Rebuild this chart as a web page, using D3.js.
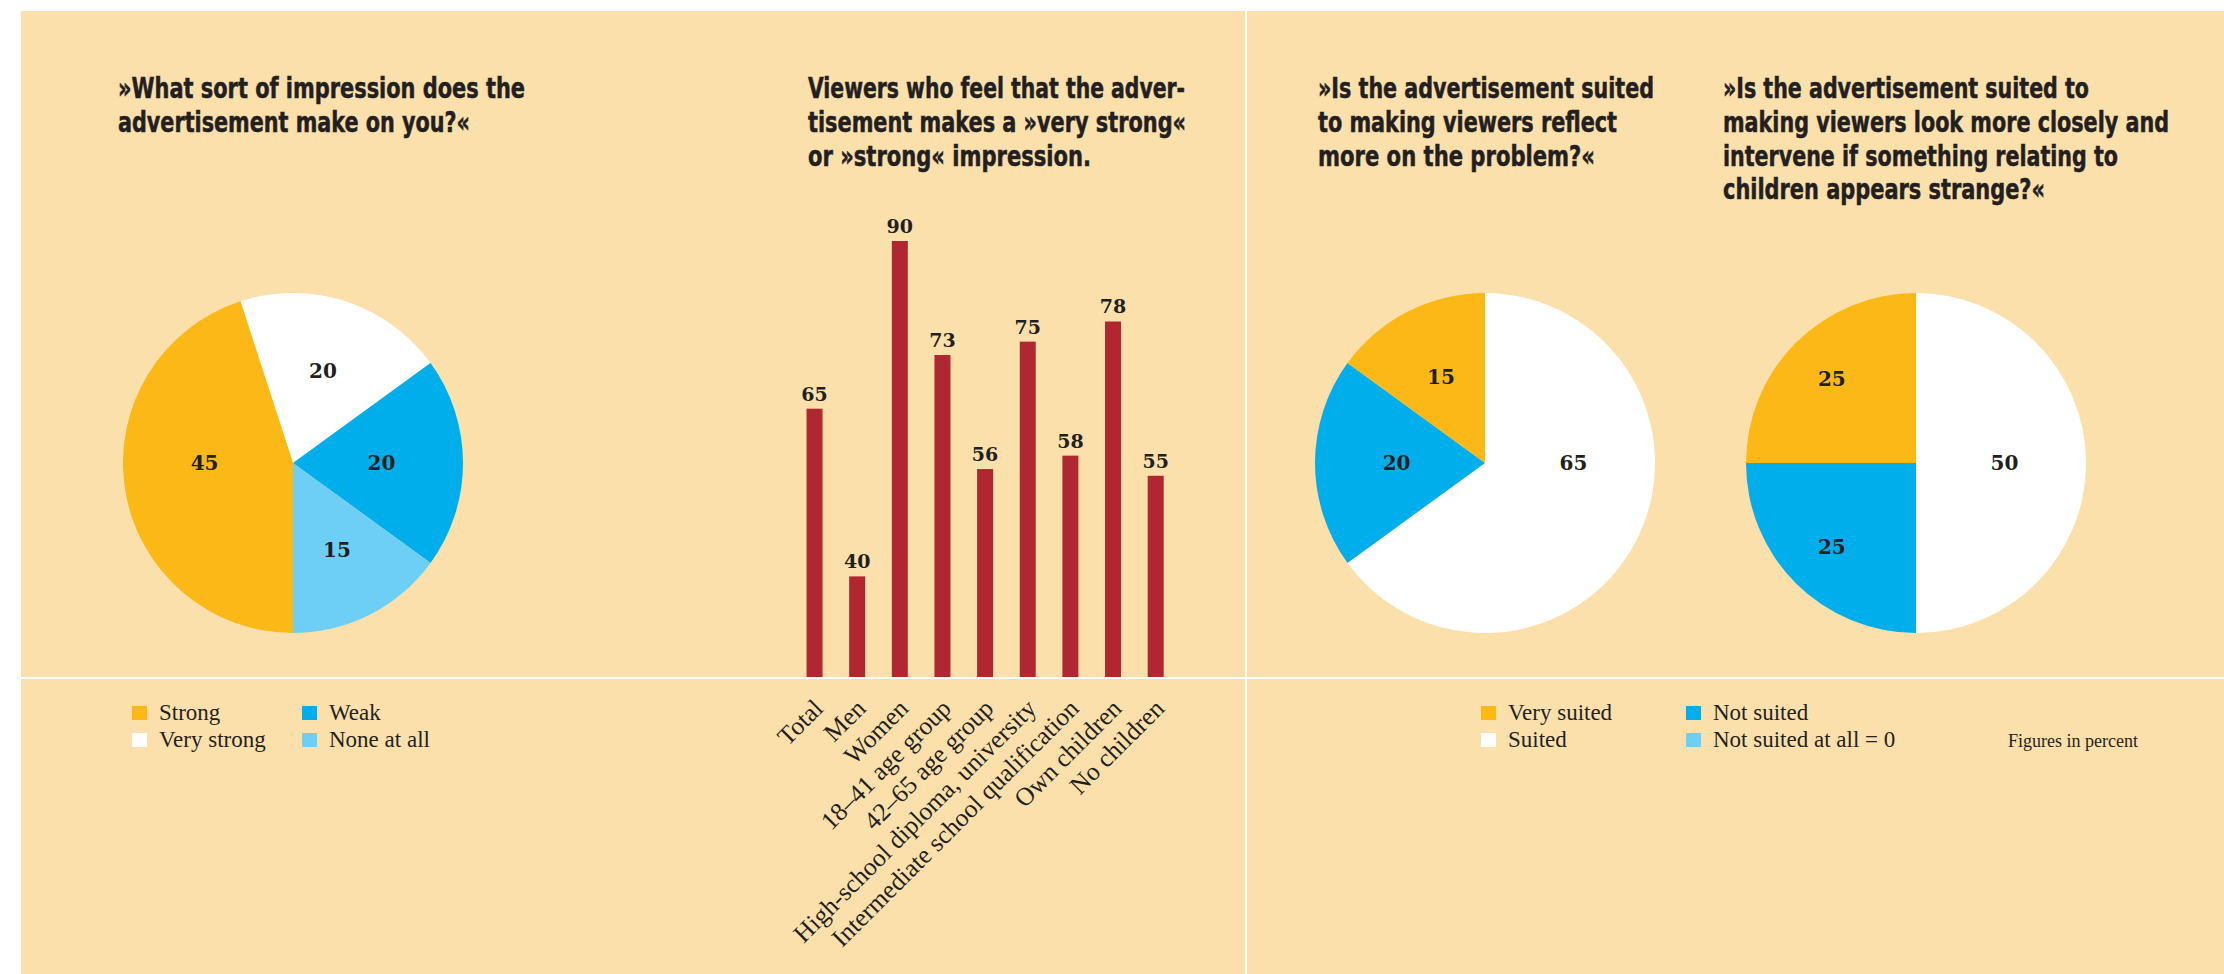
<!DOCTYPE html>
<html>
<head>
<meta charset="utf-8">
<script src="https://cdn.jsdelivr.net/npm/d3@7"></script>
<style>
  body { margin: 0; background: #fff; }
  .title { font-family: "Liberation Sans Narrow", "DejaVu Sans Condensed", sans-serif; font-weight: bold; font-size: 28px; fill: #231f20; stroke: #231f20; stroke-width: 0.5px; }
  .num { font-family: "DejaVu Serif", serif; font-weight: bold; fill: #231f20; }
  .legend text, .tick text, .note { font-family: "Liberation Serif", serif; fill: #231f20; }
</style>
</head>
<body>
<svg></svg>
<script>
const WIDTH = 2224;
const HEIGHT = 974;

// chart 1: impression
const impressionCats = ["Very strong", "Weak", "None at all", "Strong"];
const impressionVals = [20, 20, 15, 45];

// chart 2: bars
const groupCats = ["Total", "Men", "Women", "18–41 age group", "42–65 age group",
  "High-school diploma, university", "Intermediate school qualification", "Own children", "No children"];
const groupVals = [65, 40, 90, 73, 56, 75, 58, 78, 55];

// charts 3 and 4: suitability
const suitCats = ["Suited", "Not suited", "Very suited"];
const reflectVals = [65, 20, 15];
const interveneVals = [50, 25, 25];

const legend1 = [["Strong", "Weak"], ["Very strong", "None at all"]];
const legend2 = [["Very suited", "Not suited"], ["Suited", "Not suited at all = 0"]];

const colors = {
  "Strong": "#fbb817", "Very strong": "#ffffff", "Weak": "#00aeec", "None at all": "#6dcff6",
  "Very suited": "#fbb817", "Suited": "#ffffff", "Not suited": "#00aeec", "Not suited at all = 0": "#6dcff6"
};

const BG = "#fce0ac";
const INK = "#231f20";

const svg = d3.select("svg").attr("width", WIDTH).attr("height", HEIGHT);

svg.append("rect").attr("x", 21).attr("y", 11).attr("width", WIDTH - 21).attr("height", HEIGHT - 11).attr("fill", BG);
svg.append("rect").attr("x", 21).attr("y", 677).attr("width", WIDTH - 21).attr("height", 2).attr("fill", "#fff");
svg.append("rect").attr("x", 1245).attr("y", 11).attr("width", 2).attr("height", HEIGHT - 11).attr("fill", "#fff");

function title(x, lines, lengths) {
  const t = svg.append("text").classed("title", true);
  lines.forEach((l, i) => {
    t.append("tspan")
      .attr("x", x)
      .attr("y", 98 + i * 33.8)
      .attr("textLength", lengths[i])
      .attr("lengthAdjust", "spacingAndGlyphs")
      .text(l);
  });
}

title(118, ["»What sort of impression does the", "advertisement make on you?«"], [407, 352]);
title(808, ["Viewers who feel that the adver-", "tisement makes a »very strong«", "or »strong« impression."], [377, 378, 283]);
title(1318, ["»Is the advertisement suited", "to making viewers reflect", "more on the problem?«"], [336, 299, 277]);
title(1723, ["»Is the advertisement suited to", "making viewers look more closely and",
  "intervene if something relating to", "children appears strange?«"], [366, 446, 395, 322]);

// pies
const R = 170;
const arc = d3.arc().innerRadius(0).outerRadius(R);

function drawPie(cx, cy, cats, vals, start) {
  const pie = d3.pie().sort(null).value(d => d.v)
    .startAngle(start).endAngle(start + 2 * Math.PI);
  const arcs = pie(cats.map((c, i) => ({ c, v: vals[i] })));
  const g = svg.append("g").attr("transform", `translate(${cx},${cy})`);
  g.selectAll("path").data(arcs).enter().append("path")
    .attr("d", arc)
    .attr("fill", d => colors[d.data.c]);

  // labels sit on the horizontal axis when the slice spans it, else at mid-angle
  function labelPos(d) {
    const a0 = d.startAngle, a1 = d.endAngle;
    for (const h of [Math.PI / 2, 3 * Math.PI / 2]) {
      for (const k of [-2 * Math.PI, 0, 2 * Math.PI]) {
        const hh = h + k;
        if (hh > a0 + 0.01 && hh < a1 - 0.01) {
          const r = R * 0.52;
          return [r * Math.sin(hh), -r * Math.cos(hh)];
        }
      }
    }
    const m = (a0 + a1) / 2;
    const r = d.data.v > 22 ? R * 0.7 : R * 0.57;
    return [r * Math.sin(m), -r * Math.cos(m)];
  }

  g.selectAll("text").data(arcs).enter().append("text")
    .classed("num", true)
    .attr("transform", d => `translate(${labelPos(d)})`)
    .attr("text-anchor", "middle")
    .attr("dy", "0.36em")
    .style("font-size", "20px")
    .text(d => d.data.v);
}

drawPie(293, 463, impressionCats, impressionVals, -0.1 * Math.PI);
drawPie(1485, 463, suitCats, reflectVals, 0);
drawPie(1916, 463, suitCats, interveneVals, 0);

// bars
const BASE = 677;
const x = d3.scaleBand().domain(groupCats).range([793.2, 1177]).paddingInner(0.625).paddingOuter(0.3125);
const y = d3.scaleLinear().domain([25, 90]).range([BASE, 241]);

const bars = svg.append("g");
bars.selectAll("rect").data(groupVals).enter().append("rect")
  .attr("x", (d, i) => x(groupCats[i]))
  .attr("y", d => y(d))
  .attr("width", x.bandwidth())
  .attr("height", d => BASE - y(d))
  .attr("fill", "#b0272f");

bars.selectAll("text").data(groupVals).enter().append("text")
  .classed("num", true)
  .attr("x", (d, i) => x(groupCats[i]) + x.bandwidth() / 2)
  .attr("y", d => y(d) - 8)
  .attr("text-anchor", "middle")
  .style("font-size", "19px")
  .text(d => d);

const axis = svg.append("g")
  .attr("transform", `translate(0,${BASE + 1})`)
  .call(d3.axisBottom(x).tickSize(0).tickPadding(0));
axis.select(".domain").remove();
axis.selectAll(".tick text")
  .attr("x", 0).attr("y", 0).attr("dy", 0)
  .attr("transform", "translate(10,32) rotate(-45)")
  .style("text-anchor", "end")
  .style("font-size", "25.5px")
  .attr("fill", INK);

// legends
function drawLegend(x0, cols, rows) {
  const g = svg.append("g").classed("legend", true);
  rows.forEach((row, ri) => {
    row.forEach((name, ci) => {
      const lx = x0 + cols[ci];
      const ly = 706 + ri * 27;
      g.append("rect").attr("x", lx).attr("y", ly).attr("width", 15).attr("height", 14).attr("fill", colors[name]);
      g.append("text").attr("x", lx + 27).attr("y", ly + 14).style("font-size", "23px").text(name);
    });
  });
}

drawLegend(132, [0, 170], legend1);
drawLegend(1481, [0, 205], legend2);

svg.append("text").classed("note", true)
  .attr("x", 2008).attr("y", 747)
  .style("font-size", "18px")
  .text("Figures in percent");
</script>
</body>
</html>
